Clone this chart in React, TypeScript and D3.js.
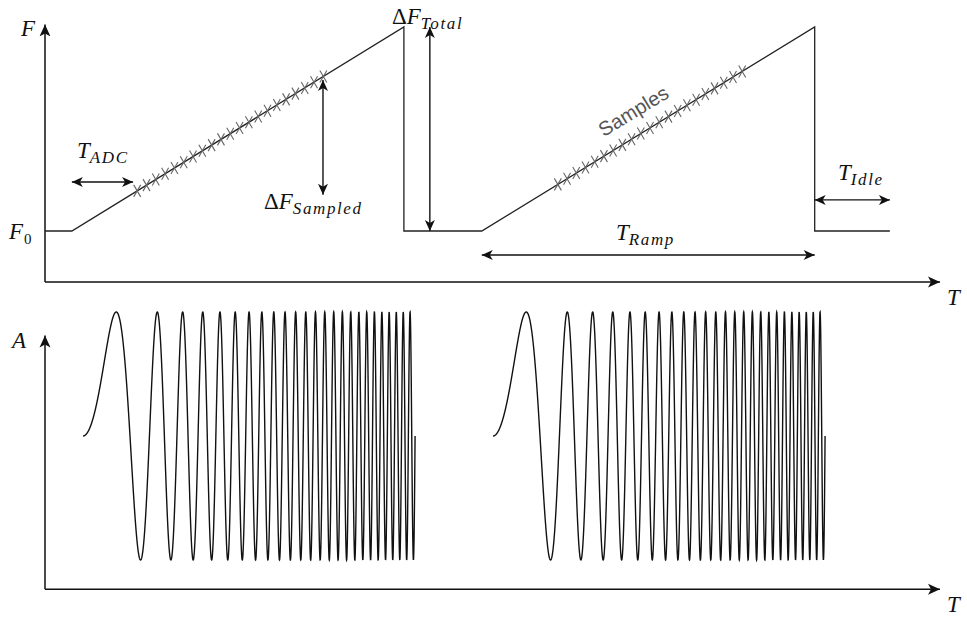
import React from "react";
import * as d3 from "d3";

// time axis in arbitrary units (0..100)
const rampStarts = [3.0, 48.8];
const rampEnds = [40.1, 86.0];
const idleEnd = 94.4;
const freqLow = 1; // F0
const freqHigh = 5;

// ADC sample windows on each ramp
const sampleStarts = [10.3, 57.3];
const sampleEnds = [31.1, 77.9];
const sampleCount = 21;

// transmitted chirps (lower panel)
const chirpStarts = [4.25, 50.06];
const chirpDuration = 37.1;
const chirpCycles = 25;

// annotation arrows: [t1, f1, t2, f2]
const arrowADC = [3.0, 1.96, 9.84, 1.96];
const arrowSampled = [31.06, 3.96, 31.06, 1.71];
const arrowTotal = [43.0, 5.0, 43.0, 1.0];
const arrowIdle = [86.0, 1.61, 94.4, 1.61];
const arrowRamp = [48.8, 0.53, 86.0, 0.53];

const W = 967;
const H = 617;
const serif = "'Liberation Serif', 'DejaVu Serif', serif";

function MathLabel({ x, y, main, sub, pre, subUpright }) {
  return (
    <text x={x} y={y} fontFamily={serif} fontSize={23} fill="#111">
      {pre ? <tspan fontStyle="normal">{pre}</tspan> : null}
      <tspan fontStyle="italic">{main}</tspan>
      {sub ? (
        <tspan
          fontSize={subUpright ? 15 : 17}
          dy={5}
          dx={subUpright ? 1 : 0}
          letterSpacing={subUpright ? 0 : 1.6}
          fontStyle={subUpright ? "normal" : "italic"}
        >
          {sub}
        </tspan>
      ) : null}
    </text>
  );
}

export default function App() {
  const x = d3.scaleLinear().domain([0, 100]).range([45, 940]);
  const yF = d3.scaleLinear().domain([0, 5]).range([282, 27]);
  const yA = d3.scaleLinear().domain([-1, 1]).range([560, 312]);

  // frequency profile
  const profile: [number, number][] = [[0, freqLow]];
  rampStarts.forEach((s, i) => {
    profile.push([s, freqLow]);
    profile.push([rampEnds[i], freqHigh]);
    profile.push([rampEnds[i], freqLow]);
  });
  profile.push([idleEnd, freqLow]);
  const fLine = d3.line<[number, number]>().x((d) => x(d[0])).y((d) => yF(d[1]));

  const rampF = (i: number, t: number) =>
    freqLow + ((t - rampStarts[i]) / (rampEnds[i] - rampStarts[i])) * (freqHigh - freqLow);

  const samples: [number, number][] = [];
  sampleStarts.forEach((s, i) => {
    const step = (sampleEnds[i] - s) / (sampleCount - 1);
    d3.range(sampleCount).forEach((k) => {
      const t = s + k * step;
      samples.push([t, rampF(i, t)]);
    });
  });

  const aLine = d3
    .line<[number, number]>()
    .x((d) => x(d[0]))
    .y((d) => yA(d[1]));
  const chirps = chirpStarts.map((s) => {
    const pts: [number, number][] = d3.range(0, 3001).map((k) => {
      const u = k / 3000;
      return [s + u * chirpDuration, Math.sin(2 * Math.PI * chirpCycles * u * u)];
    });
    return aLine(pts);
  });

  const slope = Math.atan2(yF(freqHigh) - yF(freqLow), x(rampEnds[1]) - x(rampStarts[1])) * 180 / Math.PI;

  const arrow = (a: number[], key: string) => (
    <line
      key={key}
      x1={x(a[0])}
      y1={yF(a[1])}
      x2={x(a[2])}
      y2={yF(a[3])}
      stroke="#111"
      strokeWidth={1.4}
      markerStart="url(#head)"
      markerEnd="url(#head)"
    />
  );

  return (
    <svg width={W} height={H} style={{ position: "absolute", left: 0, top: 0, background: "#fff" }}>
      <defs>
        <marker id="head" viewBox="-12 -6 14 12" refX={0} refY={0} markerWidth={14} markerHeight={12}
          markerUnits="userSpaceOnUse" orient="auto-start-reverse">
          <path d="M0,0 L-11,-5 L-8,0 L-11,5 Z" fill="#111" />
        </marker>
        <marker id="axhead" viewBox="-12 -6 14 12" refX={0} refY={0} markerWidth={14} markerHeight={12}
          markerUnits="userSpaceOnUse" orient="auto">
          <path d="M0,0 L-12,-5.5 L-9,0 L-12,5.5 Z" fill="#111" />
        </marker>
      </defs>

      {/* upper panel axes */}
      <line x1={x(0)} y1={yF(0)} x2={x(0)} y2={yF(5.05)} stroke="#111" strokeWidth={1.5} markerEnd="url(#axhead)" />
      <line x1={x(0)} y1={yF(0)} x2={x(100)} y2={yF(0)} stroke="#111" strokeWidth={1.5} markerEnd="url(#axhead)" />

      <path d={fLine(profile) || ""} fill="none" stroke="#222" strokeWidth={1.3} />

      {samples.map((d, i) => {
        const cx = x(d[0]);
        const cy = yF(d[1]);
        const rx = 3.5;
        const ry = 6;
        return (
          <path key={i} d={`M${cx - rx},${cy - ry}L${cx + rx},${cy + ry}M${cx - rx},${cy + ry}L${cx + rx},${cy - ry}`}
            stroke="#666" strokeWidth={1.1} fill="none" />
        );
      })}

      {arrow(arrowADC, "adc")}
      {arrow(arrowSampled, "samp")}
      {arrow(arrowTotal, "tot")}
      {arrow(arrowIdle, "idle")}
      {arrow(arrowRamp, "ramp")}

      <MathLabel x={21} y={36} main="F" />
      <MathLabel x={9} y={239} main="F" sub="0" subUpright />
      <MathLabel x={77} y={158} main="T" sub="ADC" />
      <MathLabel x={264} y={209} pre="Δ" main="F" sub="Sampled" />
      <MathLabel x={392} y={24} pre="Δ" main="F" sub="Total" />
      <MathLabel x={838} y={180} main="T" sub="Idle" />
      <MathLabel x={616} y={240} main="T" sub="Ramp" />
      <MathLabel x={947} y={305} main="T" />

      <text
        transform={`translate(637,117) rotate(${slope})`}
        textAnchor="middle"
        fontFamily="'Liberation Sans', Arial, sans-serif"
        fontSize={20}
        fill="#555"
      >
        Samples
      </text>

      {/* lower panel */}
      <line x1={x(0)} y1={yA(-1.235)} x2={x(0)} y2={yA(0.81)} stroke="#111" strokeWidth={1.5} markerEnd="url(#axhead)" />
      <line x1={x(0)} y1={yA(-1.235)} x2={x(100)} y2={yA(-1.235)} stroke="#111" strokeWidth={1.5} markerEnd="url(#axhead)" />
      {chirps.map((p, i) => (
        <path key={i} d={p || ""} fill="none" stroke="#111" strokeWidth={1.4} />
      ))}
      <MathLabel x={12} y={348} main="A" />
      <MathLabel x={947} y={612} main="T" />
    </svg>
  );
}
